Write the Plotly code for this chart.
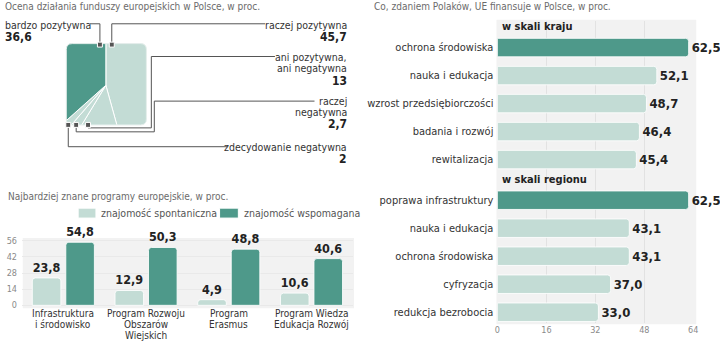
import plotly.graph_objects as go

W, H = 720, 344


def px(x):
    return x / W


def py(y):
    return 1 - y / H


DARK = "#4e998a"
LIGHT = "#c3dcd5"
BG = "#f2f2f2"
GRID = "#e2e2e2"
TXT = "#333333"
GREY = "#6b6b6b"
FONT = "DejaVu Sans Condensed, Liberation Sans Narrow, Arial Narrow, sans-serif"

# ---------------- data ----------------
# pie: ocena działania funduszy (clockwise from 12 o'clock)
pie_labels = ["raczej pozytywna", "ani pozytywna,<br>ani negatywna", "raczej<br>negatywna",
              "zdecydowanie negatywna", "bardzo pozytywna"]
pie_values = [45.7, 13, 2.7, 2, 36.6]
pie_highlight = [False, False, False, False, True]

# programs
prog_categories = ["Infrastruktura<br>i środowisko", "Program Rozwoju<br>Obszarów<br>Wiejskich",
                   "Program<br>Erasmus", "Program Wiedza<br>Edukacja Rozwój"]
prog_spont = [23.8, 12.9, 4.9, 10.6]
prog_wspom = [54.8, 50.3, 48.8, 40.6]
prog_yticks = [0, 14, 28, 42, 56]
legend_names = ["znajomość spontaniczna", "znajomość wspomagana"]

# financing
kraj_labels = ["ochrona środowiska", "nauka i edukacja", "wzrost przedsiębiorczości",
               "badania i rozwój", "rewitalizacja"]
kraj_values = [62.5, 52.1, 48.7, 46.4, 45.4]
region_labels = ["poprawa infrastruktury", "nauka i edukacja", "ochrona środowiska",
                 "cyfryzacja", "redukcja bezrobocia"]
region_values = [62.5, 43.1, 43.1, 37.0, 33.0]
group_titles = ["w skali kraju", "w skali regionu"]
fin_xticks = [0, 16, 32, 48, 64]

titles = ["Ocena działania funduszy europejskich w Polsce, w proc.",
          "Najbardziej znane programy europejskie, w proc.",
          "Co, zdaniem Polaków, UE finansuje w Polsce, w proc."]


def fmt(v):
    if v == int(v):
        return str(int(v))
    return ("%.1f" % v).replace(".", ",")


fig = go.Figure()
shapes = []
ann = []

# ---------------- square pie ----------------
cx, cy, R = 104, 86, 61
fig.add_trace(go.Pie(
    values=pie_values, labels=pie_labels, sort=False, direction="clockwise", rotation=0,
    marker=dict(colors=[DARK if h else LIGHT for h in pie_highlight],
                line=dict(color="white", width=1)),
    textinfo="none", hoverinfo="skip", showlegend=False,
    domain=dict(x=[px(cx - R), px(cx + R)], y=[py(cy + R), py(cy - R)])))

# mask: everything around a rounded square
sx0, sy0, sx1, sy1, r = 64, 44, 145, 126, 6


def P(x, y):
    return "%.5f,%.5f" % (px(x), py(y))


outer = "M%s L%s L%s L%s Z" % (P(40, 20), P(170, 20), P(170, 152), P(40, 152))
inner = ("M%s L%s Q%s %s L%s Q%s %s L%s Q%s %s L%s Q%s %s Z" % (
    P(sx0 + r, sy0), P(sx1 - r, sy0), P(sx1, sy0), P(sx1, sy0 + r),
    P(sx1, sy1 - r), P(sx1, sy1), P(sx1 - r, sy1),
    P(sx0 + r, sy1), P(sx0, sy1), P(sx0, sy1 - r),
    P(sx0, sy0 + r), P(sx0, sy0), P(sx0 + r, sy0)))
shapes.append(dict(type="path", xref="paper", yref="paper", path=outer + " " + inner,
                   fillcolor="white", fillrule="evenodd", line=dict(width=0), layer="above"))
shapes.append(dict(type="path", xref="paper", yref="paper", path=inner,
                   fillcolor="rgba(0,0,0,0)", line=dict(color="#e4eeeb", width=1), layer="above"))

# leader lines: (points, marker point)
leaders = [
    [(110, 45), (110, 24), (265, 24)],
    [(86, 126), (86, 129), (150, 129), (150, 57), (275, 57)],
    [(74, 126), (74, 133), (153, 133), (153, 102), (315, 102)],
    [(66, 126), (66, 148), (227, 148)],
    [(98, 45), (98, 24), (88, 24)],
]
for pts in leaders:
    path = "M" + " L".join(P(x, y) for x, y in pts)
    shapes.append(dict(type="path", xref="paper", yref="paper", path=path,
                       line=dict(color="#555555", width=1), layer="above"))
for pts in leaders:
    mx, my = pts[0]
    shapes.append(dict(type="rect", xref="paper", yref="paper",
                       x0=px(mx - 2.5), x1=px(mx + 2.5), y0=py(my + 2.5), y1=py(my - 2.5),
                       fillcolor="#555555", line=dict(color="white", width=1), layer="above"))

# pie labels
label_pos = [(350, 25, "right"), (350, 58, "right"), (350, 102, "right"),
             (350, 148, "right"), (0, 25, "left")]
for lab, val, (lx, ly, al) in zip(pie_labels, pie_values, label_pos):
    lines = lab.split("<br>")
    for i, line in enumerate(lines):
        ann.append(dict(xref="paper", yref="paper", x=px(lx), y=py(ly + 11 * i), text=line,
                        xanchor=al, yanchor="middle", showarrow=False,
                        font=dict(family=FONT, size=10.5, color=TXT)))
    ann.append(dict(xref="paper", yref="paper", x=px(lx), y=py(ly + 11 * (len(lines) - 1) + 12.5),
                    text="<b>%s</b>" % fmt(val), xanchor=al, yanchor="middle", showarrow=False,
                    font=dict(family=FONT, size=12, color="#222222")))

# ---------------- programs bar chart ----------------
yr = [-2, 60]
ppu = 65 / 56
y_lo_px = 308 + 2 * ppu
y_hi_px = 308 - 60 * ppu
for vals, col, name in [(prog_spont, LIGHT, legend_names[0]), (prog_wspom, DARK, legend_names[1])]:
    fig.add_trace(go.Bar(x=prog_categories, y=vals, name=name,
                         marker=dict(color=col, line=dict(color="rgba(255,255,255,0.85)", width=1),
                                     cornerradius=3),
                         texttemplate="<b>%{y:.1f}</b>", textposition="outside", cliponaxis=False,
                         constraintext="none",
                         textfont=dict(family=FONT, size=12.5, color="#222222"),
                         xaxis="x", yaxis="y", showlegend=False, hoverinfo="skip"))

shapes.append(dict(type="rect", xref="paper", yref="paper", x0=px(20), x1=px(355),
                   y0=py(311), y1=py(240), fillcolor=BG, line=dict(width=0), layer="below"))

for cat in prog_categories:
    for i, line in enumerate(cat.split("<br>")):
        ann.append(dict(xref="x", yref="paper", x=cat, y=py(316 + 11 * i), text=line,
                        xanchor="center", yanchor="middle", showarrow=False,
                        font=dict(family=FONT, size=10, color=TXT)))

# legend
for (x0, x1, tx), col, name in zip([(76, 94, 97), (219, 238, 242)], [LIGHT, DARK], legend_names):
    shapes.append(dict(type="rect", xref="paper", yref="paper", x0=px(x0), x1=px(x1),
                       y0=py(220), y1=py(210), fillcolor=col, line=dict(color="white", width=1),
                       layer="above"))
    ann.append(dict(xref="paper", yref="paper", x=px(tx), y=py(215), text=name,
                    xanchor="left", yanchor="middle", showarrow=False,
                    font=dict(family=FONT, size=10.5, color="#555555")))

# ---------------- financing bar chart ----------------
gap = 0.45
rows_k = list(range(len(kraj_labels)))
rows_r = [len(kraj_labels) + gap + i for i in range(len(region_labels))]
ppr = 28.25
row0_px = 48
r_top, r_bot = -0.95, 9.85
dom_top_px = row0_px + r_top * ppr
dom_bot_px = row0_px + r_bot * ppr

for rows, vals in [(rows_k, kraj_values), (rows_r, region_values)]:
    fig.add_trace(go.Bar(x=vals, y=rows, orientation="h", width=0.66,
                         marker=dict(color=[DARK if i == 0 else LIGHT for i in range(len(vals))],
                                     line=dict(color="rgba(255,255,255,0.85)", width=1),
                                     cornerradius=3),
                         texttemplate="<b>%{x:.1f}</b>", textposition="outside", cliponaxis=False,
                         constraintext="none",
                         textfont=dict(family=FONT, size=13, color="#222222"),
                         xaxis="x2", yaxis="y2", showlegend=False, hoverinfo="skip"))

shapes.append(dict(type="rect", xref="paper", yref="paper", x0=px(499), x1=px(701),
                   y0=py(327), y1=py(20), fillcolor=BG, line=dict(width=0), layer="below"))

for title, row in zip(group_titles, [rows_k[0], rows_r[0]]):
    ann.append(dict(xref="paper", yref="y2", x=px(503), y=row - 0.74, text="<b>%s</b>" % title,
                    xanchor="left", yanchor="middle", showarrow=False,
                    font=dict(family=FONT, size=11, color="#222222")))

# titles
for t, (tx, ty) in zip(titles, [(0, 7), (3, 198), (373, 7)]):
    ann.append(dict(xref="paper", yref="paper", x=px(tx), y=py(ty), text=t, xanchor="left",
                    yanchor="middle", showarrow=False,
                    font=dict(family=FONT, size=10, color=GREY)))

fig.update_layout(
    width=W, height=H, margin=dict(l=0, r=0, t=0, b=0),
    paper_bgcolor="white", plot_bgcolor="rgba(0,0,0,0)",
    separators=", ", barmode="group", bargap=0.19, bargroupgap=0.147,
    font=dict(family=FONT, color=TXT),
    xaxis=dict(domain=[px(19.2), px(353.8)], range=[-0.5, 3.5], showticklabels=False,
               showgrid=False, zeroline=False, fixedrange=True),
    yaxis=dict(domain=[py(y_lo_px), py(y_hi_px)], range=yr, tickvals=prog_yticks,
               tickfont=dict(family=FONT, size=9, color="#8a8a8a"), showgrid=True,
               gridcolor="#e9e9e9", zeroline=False, fixedrange=True, ticks="", ticklabelstandoff=4),
    xaxis2=dict(domain=[px(500), px(698)], range=[0, 64], tickvals=fin_xticks,
                tickfont=dict(family=FONT, size=9, color="#8a8a8a"), showgrid=True,
                gridcolor=GRID, zeroline=False, fixedrange=True, anchor="y2", ticks=""),
    yaxis2=dict(domain=[py(dom_bot_px), py(dom_top_px)], range=[r_bot, r_top],
                tickvals=rows_k + rows_r, ticktext=kraj_labels + region_labels,
                tickfont=dict(family=FONT, size=11, color=TXT), showgrid=False,
                zeroline=False, fixedrange=True, anchor="x2", ticks="", ticklabelstandoff=3),
    shapes=shapes, annotations=ann,
)

fig.write_html("out.html")
